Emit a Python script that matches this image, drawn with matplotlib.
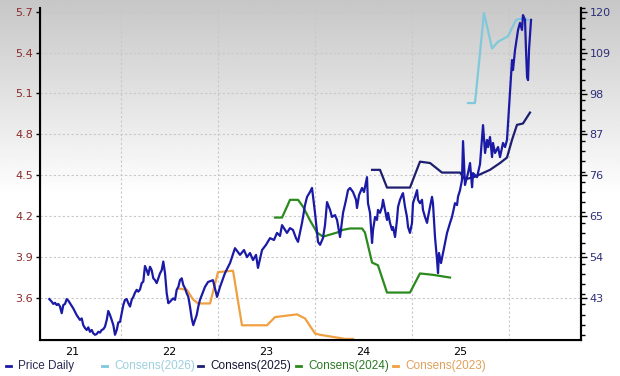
import numpy as np
import matplotlib
matplotlib.use("Agg")
import matplotlib.pyplot as plt
from matplotlib.lines import Line2D
from matplotlib.ticker import FixedLocator, MultipleLocator

# dates as fractional years
price_t = [2021.261, 2021.286, 2021.302, 2021.320, 2021.337, 2021.354, 2021.371, 2021.389, 2021.405, 2021.423,
           2021.440, 2021.457, 2021.474, 2021.508, 2021.543, 2021.577, 2021.595, 2021.611, 2021.629, 2021.646,
           2021.663, 2021.680, 2021.698, 2021.714, 2021.732, 2021.749, 2021.766, 2021.784, 2021.801, 2021.818,
           2021.835, 2021.853, 2021.869, 2021.887, 2021.904, 2021.921, 2021.938, 2021.956, 2021.972, 2021.990,
           2022.007, 2022.024, 2022.041, 2022.059, 2022.075, 2022.093, 2022.110, 2022.127, 2022.144, 2022.162,
           2022.178, 2022.196, 2022.213, 2022.230, 2022.247, 2022.265, 2022.281, 2022.299, 2022.316, 2022.333,
           2022.351, 2022.368, 2022.385, 2022.402, 2022.420, 2022.436, 2022.454, 2022.471, 2022.488, 2022.505,
           2022.523, 2022.539, 2022.557, 2022.574, 2022.591, 2022.608, 2022.626, 2022.642, 2022.660, 2022.677,
           2022.694, 2022.711, 2022.729, 2022.745, 2022.763, 2022.780, 2022.797, 2022.814, 2022.866, 2022.897,
           2022.948, 2022.990, 2023.021, 2023.072, 2023.124, 2023.175, 2023.227, 2023.268, 2023.299, 2023.330,
           2023.361, 2023.392, 2023.412, 2023.454, 2023.495, 2023.536, 2023.577, 2023.608, 2023.639, 2023.660,
           2023.691, 2023.711, 2023.742, 2023.773, 2023.804, 2023.825, 2023.866, 2023.897, 2023.918, 2023.948,
           2023.969, 2024.000, 2024.031, 2024.052, 2024.082, 2024.103, 2024.124, 2024.155, 2024.175, 2024.206,
           2024.227, 2024.258, 2024.289, 2024.320, 2024.340, 2024.361, 2024.392, 2024.423, 2024.433, 2024.454,
           2024.485, 2024.505, 2024.536, 2024.546, 2024.567, 2024.588, 2024.598, 2024.619, 2024.639, 2024.649,
           2024.670, 2024.691, 2024.701, 2024.722, 2024.742, 2024.753, 2024.773, 2024.794, 2024.804, 2024.825,
           2024.845, 2024.856, 2024.876, 2024.897, 2024.907, 2024.928, 2024.948, 2024.959, 2024.979, 2025.000,
           2025.010, 2025.031, 2025.052, 2025.062, 2025.082, 2025.103, 2025.113, 2025.134, 2025.155, 2025.165,
           2025.186, 2025.206, 2025.216, 2025.237, 2025.258, 2025.268, 2025.278, 2025.299, 2025.320, 2025.361,
           2025.392, 2025.412, 2025.443, 2025.464, 2025.474, 2025.495, 2025.515, 2025.526, 2025.546, 2025.577,
           2025.598, 2025.619, 2025.629, 2025.670, 2025.701, 2025.732, 2025.753, 2025.773, 2025.784, 2025.804,
           2025.825, 2025.835, 2025.856, 2025.887, 2025.907, 2025.938, 2025.959, 2025.979, 2025.990, 2026.010,
           2026.031, 2026.041, 2026.062, 2026.082, 2026.093, 2026.113, 2026.134, 2026.144, 2026.165, 2026.175,
           2026.186, 2026.196, 2026.206, 2026.227]
price = [42.7, 42.0, 41.4, 41.7, 41.1, 41.4, 40.7, 38.9, 41.1, 41.4,
         42.7, 42.3, 41.6, 40.2, 38.4, 37.1, 37.5, 35.7, 34.9, 34.4,
         35.1, 33.9, 34.4, 33.5, 33.1, 33.3, 33.9, 33.7, 34.4, 34.6,
         35.3, 37.1, 39.5, 38.4, 37.1, 35.7, 33.1, 34.4, 36.4, 36.6,
         38.9, 41.1, 42.5, 42.7, 41.6, 40.7, 42.5, 43.3, 44.4, 45.2,
         44.7, 45.3, 47.0, 47.4, 51.6, 50.5, 49.2, 51.4, 50.5, 48.3,
         47.8, 47.0, 48.3, 49.6, 50.5, 52.8, 49.6, 44.3, 41.6, 42.0,
         42.5, 42.9, 42.5, 45.2, 46.0, 47.8, 48.3, 46.5, 45.6, 44.3,
         43.3, 40.7, 37.5, 35.7, 37.1, 38.4, 40.7, 42.5, 46.0, 47.3,
         47.8, 43.3, 46.0, 49.7, 52.4, 56.4, 54.6, 55.9, 54.0, 55.1,
         53.2, 54.6, 51.1, 55.9, 57.3, 59.1, 58.6, 60.5, 59.7, 62.6,
         61.3, 60.5, 61.8, 61.3, 59.1, 58.1, 63.2, 68.0, 70.2, 71.5,
         72.6, 65.9, 58.1, 57.3, 59.1, 62.6, 68.8, 66.7, 64.8, 65.3,
         64.0, 59.4, 65.9, 69.4, 72.0, 72.6, 71.5, 69.4, 67.2, 70.7,
         72.6, 71.5, 75.5, 68.5, 65.9, 57.8, 61.3, 64.8, 64.0, 66.7,
         65.9, 67.5, 69.4, 66.7, 64.0, 65.9, 63.2, 61.3, 62.1, 59.4,
         64.0, 67.5, 69.4, 70.7, 71.2, 67.5, 64.8, 62.1, 60.5, 63.2,
         68.5, 70.2, 72.0, 69.4, 68.5, 69.4, 66.7, 64.8, 63.2, 64.8,
         67.5, 70.2, 68.5, 59.4, 53.2, 49.7, 55.1, 52.4, 55.1, 60.5,
         63.2, 64.8, 68.5, 68.0, 70.2, 72.0, 74.7, 85.2, 73.4, 76.6,
         79.3, 72.8, 76.6, 75.5, 79.0, 89.5, 82.0, 85.5, 83.6, 86.3,
         80.9, 84.7, 82.0, 83.6, 80.9, 84.7, 83.6, 85.5, 90.1, 98.1,
         107.0, 104.3, 109.7, 113.2, 115.1, 117.0, 115.1, 119.1, 117.8, 109.7,
         102.4, 101.6, 109.7, 117.8]

c2026_t = [2025.577, 2025.649, 2025.742, 2025.825, 2025.887, 2025.990, 2026.072, 2026.134, 2026.196]
c2026 = [5.03, 5.03, 5.69, 5.43, 5.48, 5.52, 5.64, 5.65, 5.64]

c2025_t = [2024.588, 2024.670, 2024.742, 2024.979, 2025.082, 2025.186, 2025.309, 2025.495, 2025.546,
           2025.649, 2025.804, 2025.907, 2025.979, 2026.031, 2026.082, 2026.144, 2026.216]
c2025 = [4.54, 4.54, 4.41, 4.41, 4.60, 4.59, 4.52, 4.52, 4.47,
         4.49, 4.54, 4.59, 4.63, 4.76, 4.87, 4.88, 4.96]

c2024_t = [2023.588, 2023.660, 2023.711, 2023.742, 2023.825, 2023.876, 2023.948, 2024.021, 2024.082,
           2024.227, 2024.289, 2024.361, 2024.485, 2024.515, 2024.588, 2024.649, 2024.742, 2024.979,
           2025.082, 2025.216, 2025.392]
c2024 = [4.19, 4.19, 4.27, 4.32, 4.32, 4.27, 4.17, 4.08, 4.05,
         4.08, 4.10, 4.11, 4.11, 4.08, 3.86, 3.84, 3.64, 3.64,
         3.78, 3.77, 3.75]

c2023_t = [2022.588, 2022.680, 2022.742, 2022.794, 2022.918, 2023.000, 2023.155, 2023.247, 2023.505,
           2023.588, 2023.814, 2023.897, 2024.000, 2024.052, 2024.227, 2024.309, 2024.392]
c2023 = [3.67, 3.66, 3.59, 3.56, 3.56, 3.79, 3.80, 3.40, 3.40,
         3.46, 3.48, 3.45, 3.34, 3.33, 3.31, 3.30, 3.30]

left_ticks = [3.6, 3.9, 4.2, 4.5, 4.8, 5.1, 5.4, 5.7]
right_ticks = [43, 54, 65, 76, 87, 98, 109, 120]
year_labels = ['21', '22', '23', '24', '25']

c_price = '#1a1aa6'
c_2026 = '#80c8dc'
c_2025 = '#1e1e70'
c_2024 = '#2a8a1e'
c_2023 = '#f0a040'

fig = plt.figure(figsize=(6.2, 3.76), dpi=100)

# grey-to-white gradient behind everything
bg = fig.add_axes([0, 0, 1, 1], zorder=-10)
shade = 0.78 + 0.22 * np.clip(np.linspace(0, 1, 200) / 0.52, 0, 1)
bg.imshow(np.repeat(shade[:, None], 2, axis=1), cmap='gray', vmin=0, vmax=1,
          aspect='auto', extent=[0, 1, 0, 1], origin='upper')
bg.axis('off')

ax = fig.add_axes([40 / 620, 1 - 340 / 376, 541 / 620, 332 / 376])
ax.set_facecolor('none')
ax.plot(c2023_t, c2023, color=c_2023, lw=1.6)
ax.plot(c2024_t, c2024, color=c_2024, lw=1.6)
ax.plot(c2025_t, c2025, color=c_2025, lw=1.6)
ax.plot(c2026_t, c2026, color=c_2026, lw=1.6)
ax.set_ylim(3.292, 5.727)
ax.set_xlim(2021.165, 2026.742)
ax.set_yticks(left_ticks)
ax.set_yticklabels([f'{v:.1f}' for v in left_ticks])
ax.tick_params(axis='y', labelcolor='#8b2a2a', color='black', labelsize=8, length=3, width=1, pad=2)

ax.set_xticks([2021.5 + i for i in range(5)])
ax.set_xticklabels(year_labels)
ax.xaxis.set_minor_locator(FixedLocator([2022, 2023, 2024, 2025, 2026]))
ax.tick_params(axis='x', which='both', length=0, labelsize=8, pad=5)
ax.grid(axis='y', which='major', color='#c8c8c8', ls=(0, (2, 2)), lw=0.8)
ax.grid(axis='x', which='minor', color='#c8c8c8', ls=(0, (2, 2)), lw=0.8)
ax.spines['top'].set_visible(False)
for s in ['left', 'bottom', 'right']:
    ax.spines[s].set_linewidth(1.5)

ax2 = ax.twinx()
ax2.plot(price_t, price, color=c_price, lw=1.6)
ax2.set_ylim(31.7, 121.0)
ax2.set_yticks(right_ticks)
ax2.yaxis.set_minor_locator(MultipleLocator(2.75))
ax2.tick_params(axis='y', which='major', labelcolor='#2e2e7a', labelsize=8, length=4, width=1, pad=2)
ax2.tick_params(axis='y', which='minor', length=3, width=1)
ax2.spines['top'].set_visible(False)
ax2.spines['right'].set_linewidth(1.5)

# legend along the bottom
entries = [(8, 'Price Daily', c_price, '#2a2a55'),
           (104, 'Consens(2026)', c_2026, '#9ccfdf'),
           (200, 'Consens(2025)', c_2025, '#151535'),
           (298, 'Consens(2024)', c_2024, '#2a7a22'),
           (395, 'Consens(2023)', c_2023, '#e0a05a')]
ly = 1 - 366 / 376
for px, label, lc, tc in entries:
    fig.add_artist(Line2D([(px - 2) / 620, (px + 3) / 620], [ly, ly], color=lc, lw=2,
                          transform=fig.transFigure))
    fig.text((px + 10) / 620, ly, label, color=tc, fontsize=8.5, family='Liberation Sans',
             va='center', ha='left')

fig.savefig('out.png', dpi=100)
